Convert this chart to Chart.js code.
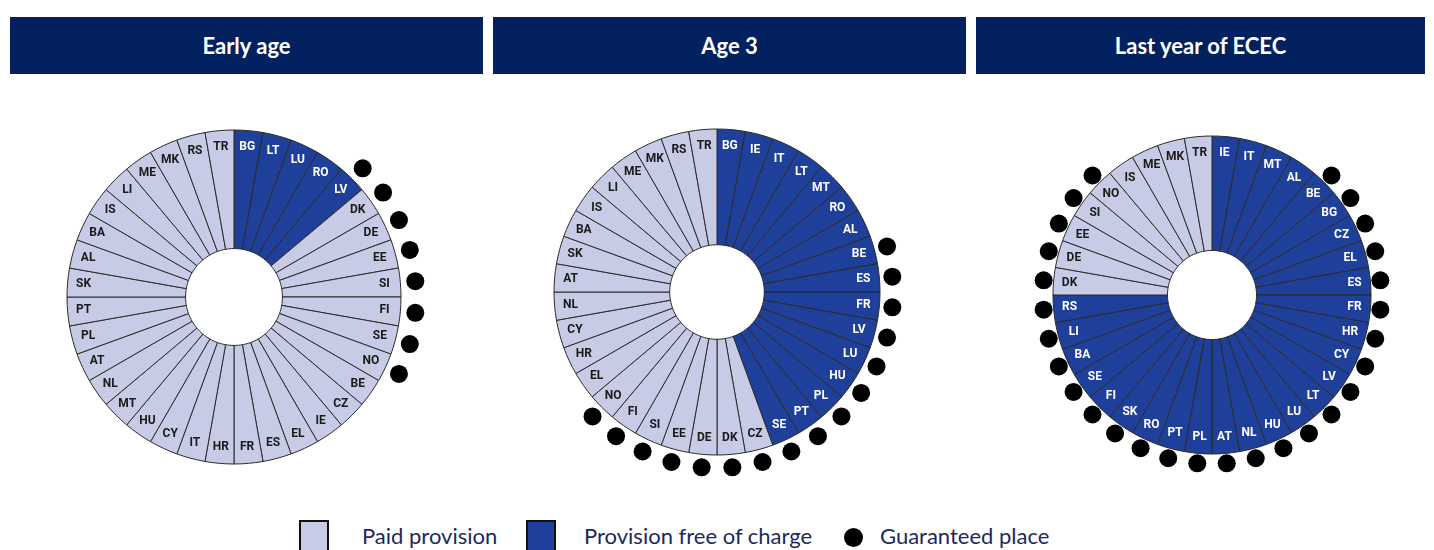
<!DOCTYPE html>
<html>
<head>
<meta charset="utf-8">
<script src="https://cdn.jsdelivr.net/npm/chart.js@4"></script>
<style>
  body { margin: 0; width: 1434px; height: 550px; background: #fff; position: relative; overflow: hidden; font-family: Lato, sans-serif; }
  .head { position: absolute; top: 17px; height: 57px; background: #03215f; color: #fff; font-weight: bold; font-size: 22px; display: flex; align-items: center; justify-content: center; }
  .pie { position: absolute; width: 440px; height: 440px; }
  .legend { position: absolute; top: 520px; font-size: 22px; color: #1b2a5c; line-height: 32px; }
  .box { position: absolute; top: 520px; width: 30px; height: 32px; border: 2px solid #111; box-sizing: border-box; }
  .dot { position: absolute; width: 19px; height: 19px; border-radius: 50%; background: #000; }
</style>
</head>
<body>

<div class="head" style="left:10px;width:473px">Early age</div>
<div class="head" style="left:493px;width:473px">Age 3</div>
<div class="head" style="left:976px;width:449px">Last year of ECEC</div>

<div class="pie" style="left:14px;top:77px"><canvas id="early" width="440" height="440"></canvas></div>
<div class="pie" style="left:497px;top:72px"><canvas id="age3" width="440" height="440"></canvas></div>
<div class="pie" style="left:992px;top:75px"><canvas id="last" width="440" height="440"></canvas></div>

<div class="box" style="left:299px;background:#c8cbe6"></div>
<div class="legend" style="left:362px">Paid provision</div>
<div class="box" style="left:526px;background:#1e3f9a"></div>
<div class="legend" style="left:584px">Provision free of charge</div>
<div class="dot" style="left:844px;top:528px"></div>
<div class="legend" style="left:880px">Guaranteed place</div>

<script>
"use strict"

// countries in clockwise order, starting at the top
let earlyCountries = ["BG","LT","LU","RO","LV","DK","DE","EE","SI","FI","SE","NO","BE","CZ","IE","EL","ES","FR",
  "HR","IT","CY","HU","MT","NL","AT","PL","PT","SK","AL","BA","IS","LI","ME","MK","RS","TR"];
let earlyFree = ["BG","LT","LU","RO","LV"];
let earlyGuaranteed = ["LV","DK","DE","EE","SI","FI","SE","NO"];

let age3Countries = ["BG","IE","IT","LT","MT","RO","AL","BE","ES","FR","LV","LU","HU","PL","PT","SE","CZ","DK",
  "DE","EE","SI","FI","NO","EL","HR","CY","NL","AT","SK","BA","IS","LI","ME","MK","RS","TR"];
let age3Free = ["BG","IE","IT","LT","MT","RO","AL","BE","ES","FR","LV","LU","HU","PL","PT","SE"];
let age3Guaranteed = ["BE","ES","FR","LV","LU","HU","PL","PT","SE","CZ","DK","DE","EE","SI","FI","NO"];

let lastCountries = ["IE","IT","MT","AL","BE","BG","CZ","EL","ES","FR","HR","CY","LV","LT","LU","HU","NL","AT",
  "PL","PT","RO","SK","FI","SE","BA","LI","RS","DK","DE","EE","SI","NO","IS","ME","MK","TR"];
let lastFree = ["IE","IT","MT","AL","BE","BG","CZ","EL","ES","FR","HR","CY","LV","LT","LU","HU","NL","AT",
  "PL","PT","RO","SK","FI","SE","BA","LI","RS"];
let lastGuaranteed = ["BE","BG","CZ","EL","ES","FR","HR","CY","LV","LT","LU","HU","NL","AT","PL","PT","RO","SK",
  "FI","SE","BA","LI","RS","DK","DE","EE","SI","NO"];

const PAID = "#c8cbe6";
const FREE = "#1e3f9a";

// draws the country codes and the guaranteed-place dots on top of the arcs
const ringMarks = {
  id: "ringMarks",
  afterDatasetsDraw(chart, args, opts) {
    const ctx = chart.ctx;
    const meta = chart.getDatasetMeta(0);
    const labels = chart.data.labels;
    ctx.save();
    ctx.font = "bold 12px Roboto, sans-serif";
    ctx.textAlign = "center";
    ctx.textBaseline = "middle";
    meta.data.forEach((arc, i) => {
      const a = (arc.startAngle + arc.endAngle) / 2;
      const r = arc.outerRadius - 16;
      ctx.fillStyle = opts.free.includes(labels[i]) ? "#fff" : "#1a1a1a";
      ctx.fillText(labels[i], arc.x + Math.cos(a) * r, arc.y + Math.sin(a) * r);
      if (opts.guaranteed.includes(labels[i])) {
        const d = arc.outerRadius + opts.gap;
        ctx.beginPath();
        ctx.fillStyle = "#000";
        ctx.arc(arc.x + Math.cos(a) * d, arc.y + Math.sin(a) * d, 9, 0, Math.PI * 2);
        ctx.fill();
      }
    });
    ctx.restore();
  }
};

function makeRing(id, countries, free, guaranteed, radius, cutout, gap) {
  let colors = [];
  for (let i = 0; i < countries.length; i++) {
    colors.push(free.includes(countries[i]) ? FREE : PAID);
  }
  new Chart(document.getElementById(id), {
    type: "doughnut",
    data: {
      labels: countries,
      datasets: [{
        data: countries.map(() => 1),
        backgroundColor: colors,
        borderColor: "#2b2b2b",
        borderWidth: 1
      }]
    },
    options: {
      responsive: false,
      animation: false,
      devicePixelRatio: 1,
      radius: radius,
      cutout: cutout,
      plugins: {
        legend: { display: false },
        tooltip: { enabled: false },
        ringMarks: { free: free, guaranteed: guaranteed, gap: gap }
      }
    },
    plugins: [ringMarks]
  });
}

makeRing("early", earlyCountries, earlyFree, earlyGuaranteed, 167, "29%", 15);
makeRing("age3", age3Countries, age3Free, age3Guaranteed, 163, "29%", 13);
makeRing("last", lastCountries, lastFree, lastGuaranteed, 159, "28%", 10);
</script>
</body>
</html>
